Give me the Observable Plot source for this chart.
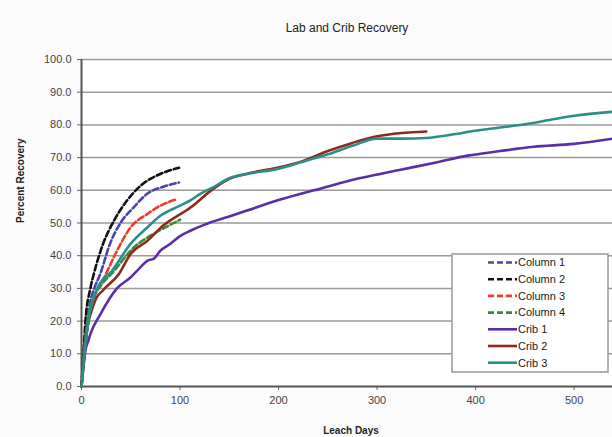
<!DOCTYPE html>
<html><head><meta charset="utf-8">
<script src="https://cdn.jsdelivr.net/npm/d3@7"></script>
<script src="https://cdn.jsdelivr.net/npm/@observablehq/plot@0.6"></script>
<style>
body{margin:0;background:#fbfbfb;font-family:"Liberation Sans",Arial,sans-serif;}
#chart{position:relative;width:612px;height:437px;}
</style></head><body><div id="chart"></div>
<script>
const title = "Lab and Crib Recovery";
const xLabel = "Leach Days";
const yLabel = "Percent Recovery";
const seriesNames = ["Column 1","Column 2","Column 3","Column 4","Crib 1","Crib 2","Crib 3"];
const seriesColors = ["#4a44b0","#111111","#ee3b2b","#3c8a3c","#5a2ea6","#8e2a1c","#2a8f89"];
const seriesDashed = [true,true,true,true,false,false,false];
const xTicks = [0,100,200,300,400,500];
const yTicks = [0,10,20,30,40,50,60,70,80,90,100];

const column1 = [[0,0],[2,9],[5,18],[9,26],[13,30],[19,34.4],[29,43.7],[40,50.2],[53,54.8],[67,59],[83,61.1],[99,62.4]];
const column2 = [[0,0],[2,10],[4,20],[9,30],[12.5,34.4],[22,43.7],[33,50.7],[46,56.8],[60,61.4],[80,65],[99,66.9]];
const column3 = [[0,0],[3,10],[7,20],[14,28],[24,33.9],[36,41.5],[50,48.7],[67,52.8],[80,55.3],[95,57.1]];
const column4 = [[0,0],[3,12],[6,20],[12,27],[20,31],[32,35],[53,42.5],[75,47],[95,50.2],[100,51]];
const crib1 = [[0,0],[2,6],[4,11],[7,14],[9,16],[19,22],[36,30],[50,33.4],[60,36.5],[67,38.5],[73,39],[80,41.5],[90,43.6],[100,46],[111,47.7],[125,49.5],[150,52],[168,53.8],[200,57],[236,60],[270,62.8],[303,65],[324,66.3],[360,68.5],[392,70.6],[425,72],[459,73.3],[500,74.2],[539,75.8]];
const crib2 = [[0,0],[3,10],[6,18],[10,23],[15,27],[22,29.5],[38,34.4],[50,40.6],[67,44.6],[83,49.2],[111,54.8],[134,60.5],[150,63.5],[175,65.5],[200,67],[225,69],[250,72],[275,74.5],[300,76.5],[325,77.5],[350,78]];
const crib3 = [[0,0],[3,10],[7,20],[16,30],[31,35.4],[50,43.7],[67,48.7],[80,52.2],[100,55.3],[111,57],[121,59],[134,61],[150,63.7],[168,65],[200,66.6],[222,68.5],[250,71],[275,73.6],[300,75.8],[325,75.8],[350,76],[375,77],[400,78.2],[425,79.2],[450,80.2],[475,81.5],[500,82.8],[539,84]];
const seriesData = [column1,column2,column3,column4,crib1,crib2,crib3];

const lineMarks = seriesData.map((pts,i) => Plot.line(pts, {
  x: d => d[0], y: d => d[1], stroke: seriesColors[i], strokeWidth: 2.6,
  strokeDasharray: seriesDashed[i] ? "6,3" : null, curve: "monotone-x"
}));

const chart = Plot.plot({
  width: 612, height: 437,
  marginLeft: 81, marginRight: 0, marginTop: 59, marginBottom: 51,
  style: {background: "transparent", fontFamily: "Liberation Sans, Arial, sans-serif"},
  x: {domain: [0, 539]},
  y: {domain: [0, 100]},
  marks: [
    Plot.frame({fill: "#ffffff", stroke: null}),
    Plot.gridY(yTicks.filter(v => v > 0), {stroke: "#9a9a9a", strokeOpacity: 1, strokeWidth: 1.5}),
    Plot.axisY(yTicks, {tickFormat: d => d.toFixed(1), tickSize: 4, tickPadding: 6, fontSize: 11, fill: "#444", stroke: "#666", label: null}),
    Plot.axisX(xTicks, {tickSize: 4, tickPadding: 6, fontSize: 11, fill: "#444", stroke: "#666", label: null}),
    Plot.ruleX([0], {stroke: "#555", strokeWidth: 2}),
    Plot.ruleY([0], {stroke: "#555", strokeWidth: 2}),
    ...lineMarks,
    Plot.text([title], {frameAnchor: "top", lineAnchor: "middle", dy: -31, fontSize: 12, fill: "#222"}),
    Plot.text([xLabel], {frameAnchor: "bottom", lineAnchor: "middle", dx: 4, dy: 44, fontSize: 10, fontWeight: "bold", fill: "#222"}),
    Plot.text([yLabel], {frameAnchor: "left", dx: -61, rotate: -90, fontSize: 10, fontWeight: "bold", fill: "#222"})
  ]
});
document.getElementById("chart").appendChild(chart);

// legend inside the plot area
const svg = d3.select(chart);
const lg = svg.append("g").attr("text-anchor", "start");
lg.append("rect").attr("x", 452).attr("y", 254).attr("width", 156).attr("height", 118)
  .attr("fill", "#fff").attr("stroke", "#999").attr("stroke-width", 1.5);
seriesNames.forEach((name, i) => {
  const y = 262.5 + i * 16.7;
  lg.append("line").attr("x1", 488).attr("x2", 517).attr("y1", y).attr("y2", y)
    .attr("stroke", seriesColors[i]).attr("stroke-width", 2.6)
    .attr("stroke-dasharray", seriesDashed[i] ? "6,3" : null);
  lg.append("text").attr("x", 518).attr("y", y).attr("dy", "0.35em").attr("text-anchor", "start")
    .attr("font-size", 11).attr("fill", "#222").attr("font-family", "Liberation Sans, Arial, sans-serif").text(name);
});
</script></body></html>
